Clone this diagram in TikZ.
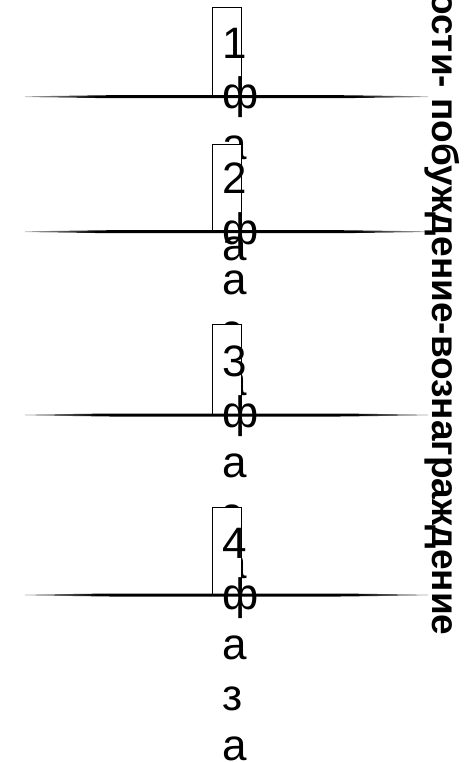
\documentclass[tikz,border=0pt]{standalone}
\usepackage{fontspec}
\setmainfont{Liberation Sans}
\pgfdeclarehorizontalshading{spindle}{100bp}{color(0bp)=(black!30); color(25bp)=(black!30); color(34bp)=(black); color(66bp)=(black); color(75bp)=(black!30); color(100bp)=(black!30)}
\begin{document}
\begin{tikzpicture}[x=1pt,y=-1pt,
  phase/.style={draw, line width=1.1pt, fill=white, minimum width=29pt, inner sep=0pt, anchor=south west},
  lbl/.style={inner sep=0pt, anchor=base west, font=\fontsize{44}{50.5}\selectfont},
  ttl/.style={inner sep=0pt, anchor=base west, rotate=-90, font=\bfseries\fontsize{37}{44}\selectfont}]
\useasboundingbox (0,0) rectangle (467,762);
\foreach \n/\ly/\tp/\bl in {1/96.7/8.3/58.5, 2/231.7/145/193.5, 3/415/325/376.5, 4/595/508/558.5}{
  \node[phase, minimum height={\ly-\tp}] (box\n) at (212,\ly) {};
  \node[lbl] (txt\n) at (222,\bl) {\vtop{\hbox{\n}\hbox{ф}\hbox{а}\hbox{з}\hbox{а}}};
  \coordinate (L\n) at (25,\ly);
  \coordinate (R\n) at (428,\ly);
  \shade[shading=spindle] (25,\ly-0.35) -- (110,\ly-1.5) -- (340,\ly-1.5) -- (428,\ly-0.35) -- (428,\ly+0.35) -- (340,\ly+1.5) -- (110,\ly+1.5) -- (25,\ly+0.35) -- cycle;
}
\node[ttl] (title) at (432,-8) {ости- побуждение-вознаграждение};
\end{tikzpicture}
\end{document}
